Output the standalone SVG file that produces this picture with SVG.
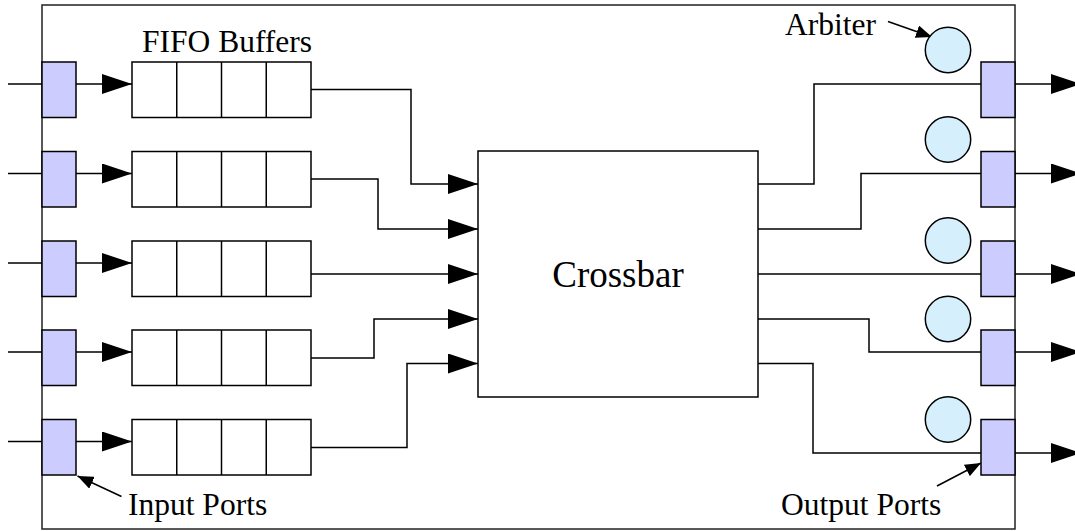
<svg xmlns="http://www.w3.org/2000/svg" width="1075" height="531" viewBox="0 0 1075 531">
<style>
.frame{fill:#fff;stroke:#222;stroke-width:1.5}
.port{fill:#ccccff;stroke:#000;stroke-width:1.5}
.fifo{fill:#fff;stroke:#000;stroke-width:1.5}
.arb{fill:#d6effc;stroke:#000;stroke-width:1.5}
.xbar{fill:#fff;stroke:#000;stroke-width:1.5}
.wire{fill:none;stroke:#000;stroke-width:1.5}
.big{marker-end:url(#big)}
.small{marker-end:url(#small)}
text{font-family:"Liberation Serif","Times New Roman",serif;fill:#000}
.lbl{font-size:31.5px}
</style>
<defs>
<marker id="big" viewBox="0 0 30 20" refX="30" refY="10" markerWidth="30" markerHeight="20" markerUnits="userSpaceOnUse" orient="auto"><path d="M0,0 L30,10 L0,20 z" fill="#000"/></marker>
<marker id="small" viewBox="0 0 16 13" refX="16" refY="6.5" markerWidth="16" markerHeight="13" markerUnits="userSpaceOnUse" orient="auto"><path d="M0,0 L16,6.5 L0,13 z" fill="#000"/></marker>
<g id="fifoShape"><rect class="fifo" x="0" y="0" width="179" height="55.5"/><path class="wire" d="M44.75,0 V55.5 M89.5,0 V55.5 M134.25,0 V55.5"/></g>
</defs>
<rect id="router" class="frame" x="42" y="5" width="973" height="524"/>
<g id="connectors">
<path class="wire" d="M8,84 H42 M8,173.5 H42 M8,263 H42 M8,352 H42 M8,441.5 H42"/>
<path class="wire big" d="M76,84 H132"/>
<path class="wire big" d="M76,173.5 H132"/>
<path class="wire big" d="M76,263 H132"/>
<path class="wire big" d="M76,352 H132"/>
<path class="wire big" d="M76,441.5 H132"/>
<path class="wire big" d="M311,89.5 H411 V184 H478"/>
<path class="wire big" d="M311,179 H378 V229 H478"/>
<path class="wire big" d="M311,274 H478"/>
<path class="wire big" d="M311,358 H374 V319 H478"/>
<path class="wire big" d="M311,447.5 H407 V363.5 H478"/>
<path class="wire" d="M758,184 H814 V84 H981"/>
<path class="wire" d="M758,229 H861 V173.5 H981"/>
<path class="wire" d="M758,274 H981"/>
<path class="wire" d="M758,319 H869 V352 H981"/>
<path class="wire" d="M758,363.5 H813 V453 H981"/>
<path class="wire big" d="M1015,84 H1081"/>
<path class="wire big" d="M1015,173.5 H1081"/>
<path class="wire big" d="M1015,274 H1081"/>
<path class="wire big" d="M1015,352 H1081"/>
<path class="wire big" d="M1015,453 H1081"/>
<path class="wire small" d="M121.5,496.5 L77.5,476"/>
<path class="wire small" d="M937,486 L981,463"/>
<path class="wire small" d="M888,21.5 L932,37"/>
</g>
<g id="input-ports">
<rect class="port" x="42" y="62" width="34" height="55.5"/>
<rect class="port" x="42" y="151.5" width="34" height="55.5"/>
<rect class="port" x="42" y="241" width="34" height="55.5"/>
<rect class="port" x="42" y="330" width="34" height="55.5"/>
<rect class="port" x="42" y="419.5" width="34" height="55.5"/>
</g>
<g id="fifo-buffers">
<use href="#fifoShape" x="132" y="62"/>
<use href="#fifoShape" x="132" y="151.5"/>
<use href="#fifoShape" x="132" y="241"/>
<use href="#fifoShape" x="132" y="330"/>
<use href="#fifoShape" x="132" y="419.5"/>
</g>
<g id="crossbar">
<rect class="xbar" x="478" y="151" width="280" height="246"/>
<text x="618" y="287" font-size="37" text-anchor="middle">Crossbar</text>
</g>
<g id="arbiters">
<circle class="arb" cx="948" cy="50" r="22.7"/>
<circle class="arb" cx="948" cy="139.5" r="22.7"/>
<circle class="arb" cx="948" cy="240.5" r="22.7"/>
<circle class="arb" cx="948" cy="319" r="22.7"/>
<circle class="arb" cx="948" cy="419.5" r="22.7"/>
</g>
<g id="output-ports">
<rect class="port" x="981" y="62" width="34" height="55.5"/>
<rect class="port" x="981" y="151.5" width="34" height="55.5"/>
<rect class="port" x="981" y="241" width="34" height="55.5"/>
<rect class="port" x="981" y="330" width="34" height="55.5"/>
<rect class="port" x="981" y="419.5" width="34" height="55.5"/>
</g>
<g id="labels">
<text class="lbl" x="142" y="52">FIFO Buffers</text>
<text class="lbl" x="128" y="515">Input Ports</text>
<text class="lbl" x="781" y="515">Output Ports</text>
<text class="lbl" x="785" y="35">Arbiter</text>
</g>
</svg>
